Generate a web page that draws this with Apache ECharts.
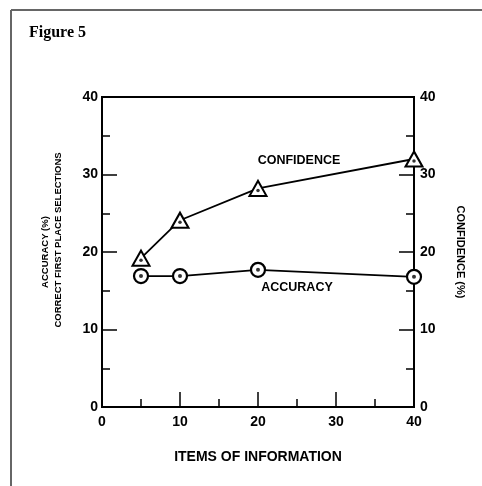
<!DOCTYPE html>
<html>
<head>
<meta charset="utf-8">
<script src="https://cdn.jsdelivr.net/npm/echarts@6/dist/echarts.min.js"></script>
<style>html,body{margin:0;padding:0;background:#fff}#c{width:482px;height:486px}</style>
</head>
<body>
<div id="c"></div>
<script>
const items = [5, 10, 20, 40];
const confidence = [19.2, 24.1, 28.2, 32.0];
const accuracy = [16.9, 16.9, 17.7, 16.8];
const axisTicks = [0, 10, 20, 30, 40];

const F = 'Liberation Sans, Arial, Helvetica, sans-serif';
const pairs = (xs, ys) => xs.map((x, i) => [x, ys[i]]);

const chart = echarts.init(document.getElementById('c'), null, {renderer: 'canvas'});

function valueAxis(extra) {
  return Object.assign({
    type: 'value',
    min: axisTicks[0],
    max: axisTicks[axisTicks.length - 1],
    interval: axisTicks[1] - axisTicks[0],
    axisLine: {show: true, lineStyle: {color: '#000', width: 2}},
    axisTick: {show: true, inside: true, length: 15, lineStyle: {color: '#000', width: 1.5}},
    minorTick: {show: true, splitNumber: 2, length: 8, lineStyle: {color: '#000', width: 1.5}},
    splitLine: {show: false},
    axisLabel: {color: '#000', fontFamily: F, fontWeight: 'bold', fontSize: 14}
  }, extra);
}

chart.setOption({
  animation: false,
  backgroundColor: '#fff',
  grid: {left: 102, right: 68, top: 97, bottom: 79, show: true, borderColor: '#000', borderWidth: 2},
  xAxis: valueAxis({axisLabel: {color: '#000', fontFamily: F, fontWeight: 'bold', fontSize: 14, margin: 8}}),
  yAxis: [
    valueAxis({position: 'left', axisLabel: {color: '#000', fontFamily: F, fontWeight: 'bold', fontSize: 14, margin: 4}}),
    valueAxis({position: 'right', axisLabel: {color: '#000', fontFamily: F, fontWeight: 'bold', fontSize: 14, margin: 6}})
  ],
  series: [
    {
      name: 'CONFIDENCE', type: 'line', yAxisIndex: 1,
      data: pairs(items, confidence),
      symbol: 'triangle', symbolSize: [17, 15],
      lineStyle: {color: '#000', width: 1.8},
      itemStyle: {color: '#fff', borderColor: '#000', borderWidth: 2},
      z: 3
    },
    {
      name: 'ACCURACY', type: 'line', yAxisIndex: 0,
      data: pairs(items, accuracy),
      symbol: 'circle', symbolSize: 14,
      lineStyle: {color: '#000', width: 1.8},
      itemStyle: {color: '#fff', borderColor: '#000', borderWidth: 2.2},
      z: 3
    },
    {
      type: 'scatter', yAxisIndex: 1, data: pairs(items, confidence),
      symbol: 'circle', symbolSize: 3.5, symbolOffset: [0, 2],
      itemStyle: {color: '#000'}, z: 5, silent: true
    },
    {
      type: 'scatter', yAxisIndex: 0, data: pairs(items, accuracy),
      symbol: 'circle', symbolSize: 4,
      itemStyle: {color: '#000'}, z: 5, silent: true
    }
  ],
  graphic: [
    {type: 'line', shape: {x1: 11, y1: 10, x2: 482, y2: 10}, style: {stroke: '#666', lineWidth: 2}},
    {type: 'line', shape: {x1: 11, y1: 10, x2: 11, y2: 486}, style: {stroke: '#666', lineWidth: 2}},
    {type: 'text', x: 29, y: 25, style: {text: 'Figure 5', font: 'bold 16px "Liberation Serif", "Times New Roman", serif', fill: '#000'}},
    {type: 'text', x: 299, y: 161, style: {text: 'CONFIDENCE', font: 'bold 12.5px ' + F, fill: '#000', align: 'center', verticalAlign: 'middle'}},
    {type: 'text', x: 297, y: 288, style: {text: 'ACCURACY', font: 'bold 12.5px ' + F, fill: '#000', align: 'center', verticalAlign: 'middle'}},
    {type: 'text', x: 258, y: 457, style: {text: 'ITEMS OF INFORMATION', font: 'bold 14px ' + F, fill: '#000', align: 'center', verticalAlign: 'middle'}},
    {type: 'text', x: 45, y: 252, rotation: Math.PI / 2, style: {text: 'ACCURACY (%)', font: 'bold 9.5px ' + F, fill: '#000', align: 'center', verticalAlign: 'middle'}},
    {type: 'text', x: 58, y: 240, rotation: Math.PI / 2, style: {text: 'CORRECT FIRST PLACE SELECTIONS', font: 'bold 9.5px ' + F, fill: '#000', align: 'center', verticalAlign: 'middle'}},
    {type: 'text', x: 460, y: 252, rotation: -Math.PI / 2, style: {text: 'CONFIDENCE (%)', font: 'bold 11px ' + F, fill: '#000', align: 'center', verticalAlign: 'middle'}}
  ]
});
</script>
</body>
</html>
